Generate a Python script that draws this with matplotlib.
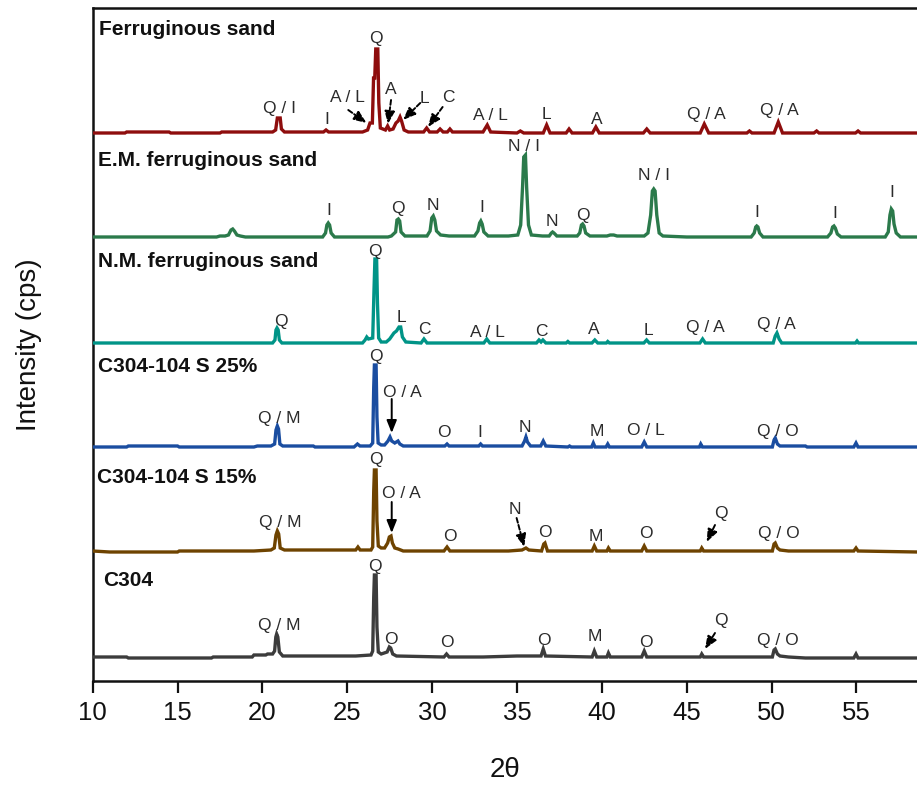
import matplotlib
matplotlib.use("Agg")
import matplotlib.pyplot as plt

plt.rcParams['font.family'] = ['Liberation Sans', 'DejaVu Sans']

# ---------------- data (2theta, intensity above each pattern's baseline) ----------------
FERR = [(10.0,0),(11.9,0),(12.0,1),(14.5,1),(14.6,0),(17.5,0),(17.6,1),(19.8,1),(20.6,1),
        (20.78,3),(20.88,15),(21.05,15),(21.12,4),(21.3,1),
        (23.6,1),(23.75,3),(23.9,1),
        (25.9,1),(26.2,3),(26.34,10),(26.48,10),(26.55,55),(26.62,55),(26.68,84),(26.8,84),(26.86,30),(26.95,5),
        (27.1,4),(27.25,3),(27.38,7),(27.5,3),(27.7,4),(27.87,10),(28.0,12),(28.11,16),(28.2,12),(28.35,3),(28.6,1),
        (29.5,1),(29.68,5),(29.85,1),(30.3,1),(30.47,4),(30.65,1),(30.9,1),(31.05,4),(31.2,1),
        (33.0,1),(33.25,8),(33.45,1),(35.0,0),(35.2,2),(35.4,0),
        (36.55,0),(36.75,8),(36.95,0),(37.9,0),(38.07,4),(38.25,0),
        (39.45,0),(39.65,6),(39.85,0),(42.45,0),(42.65,4),(42.85,0),
        (45.8,0),(46.04,9),(46.3,0),(48.55,0),(48.7,2),(48.85,0),
        (50.15,0),(50.4,11),(50.65,0),(52.5,0),(52.66,2),(52.8,0),
        (54.95,0),(55.1,2),(55.25,0),(58.6,0)]

EM = [(10.0,0),(17.3,0),(17.5,1),(17.8,1),(18.0,2),(18.15,7),(18.25,8),(18.35,6),(18.5,2),(18.7,1),(19.0,0),
      (23.55,0),(23.72,4),(23.8,12),(23.88,14),(23.96,12),(24.05,4),(24.25,0),
      (27.4,0),(27.6,1),(27.85,5),(27.93,17),(28.01,18),(28.09,16),(28.17,5),(28.4,1),(28.8,1),(29.2,1),
      (29.7,1),(29.88,6),(29.98,19),(30.07,21),(30.16,17),(30.26,6),(30.5,2),(31.0,1),(32.0,1),
      (32.5,1),(32.7,6),(32.8,14),(32.87,16),(32.95,13),(33.05,5),(33.3,1),(34.5,1),
      (35.05,2),(35.22,12),(35.33,50),(35.4,80),(35.5,82),(35.57,50),(35.68,12),(35.85,2),(36.5,1),
      (36.9,1),(37.03,4),(37.1,5),(37.18,4),(37.35,1),(38.55,1),
      (38.7,4),(38.8,12),(38.87,13),(38.95,11),(39.05,4),(39.3,1),(40.3,1),(40.5,2),(40.7,2),(40.9,1),(42.5,1),
      (42.72,4),(42.88,22),(42.98,46),(43.06,48),(43.14,46),(43.24,22),(43.38,4),(43.6,1),(45.0,0),
      (48.8,0),(48.98,4),(49.07,10),(49.13,11),(49.2,10),(49.3,4),(49.5,0),
      (53.3,0),(53.5,4),(53.6,10),(53.68,11),(53.76,9),(53.88,3),(54.1,0),
      (56.7,0),(56.88,5),(56.98,22),(57.06,28),(57.14,26),(57.22,13),(57.35,4),(57.6,0),(58.6,0)]

NM = [(10.0,0),(20.6,0),(20.74,3),(20.8,13),(20.86,15),(20.93,13),(21.0,3),(21.15,0),
      (25.9,0),(26.05,3),(26.15,6),(26.25,4),(26.5,5),(26.58,55),(26.63,84),(26.73,84),(26.78,40),(26.85,5),(27.0,1),(27.3,1),
      (27.5,4),(27.75,10),(27.9,12),(28.05,16),(28.15,16),(28.25,6),(28.45,1),(29.35,0),(29.52,4),(29.7,0),
      (33.05,0),(33.22,4),(33.4,0),(36.15,0),(36.3,3),(36.42,1),(36.53,3),(36.7,0),(37.9,0),(38.0,1.5),(38.1,0),
      (39.42,0),(39.59,3),(39.76,0),(40.27,0),(40.35,1.5),(40.45,0),(42.48,0),(42.64,3),(42.8,0),
      (45.78,0),(45.94,4),(46.1,0),(50.1,0),(50.22,7),(50.32,10),(50.45,4),(50.6,0),(54.95,0),(55.04,2),(55.13,0),(58.6,0)]

S25 = [(10.0,0),(12.0,0),(12.1,1),(15.0,1),(15.1,0),(19.5,0),(19.7,1),(20.5,1),(20.72,3),(20.8,17),(20.88,21),(20.95,18),
       (21.03,3),(21.2,1),(23.0,1),(23.1,0),(25.4,0),
       (25.6,3),(25.75,1),(26.35,1),(26.5,4),(26.56,60),(26.6,82),(26.7,82),(26.75,30),(26.82,4),(27.0,2),(27.2,2),
       (27.4,6),(27.52,10),(27.62,6),(27.8,4),(27.99,6),(28.1,3),(28.3,1),(30.0,1),(30.75,1),(30.88,3),(31.0,1),
       (32.75,1),(32.86,3),(32.97,1),
       (35.3,1),(35.45,6),(35.53,10),(35.62,5),(35.8,1),(36.4,1),(36.55,6),(36.7,1),(38.0,0),(38.1,1),(38.2,0),
       (39.4,0),(39.5,4),(39.6,0),
       (40.25,0),(40.35,3),(40.45,0),(42.35,0),(42.5,5),(42.65,0),(45.75,0),(45.83,3),(45.93,0),
       (50.05,0),(50.15,7),(50.22,9),(50.35,3),(50.5,1),(52.0,1),(52.1,0),(54.85,0),(54.98,4),(55.1,0),(58.6,0)]

S15 = [(10.0,0),(11.0,-1),(15.0,-1),(15.1,0),(18.0,0),(19.5,0),(20.5,1),(20.7,3),(20.8,16),(20.88,20),(20.96,17),
       (21.05,3),(21.3,1),(22.5,1),
       (25.5,1),(25.63,4),(25.76,1),(26.4,1),(26.5,4),(26.56,60),(26.6,81),(26.7,81),(26.75,30),(26.83,5),(27.0,3),(27.2,3),
       (27.38,8),(27.48,14),(27.58,15),(27.66,8),(27.8,3),(28.0,2),(28.3,0),(30.7,0),(30.88,4),(31.05,0),(34.5,0),
       (35.3,1),(35.53,3),(35.7,1),
       (36.45,0),(36.58,7),(36.65,8),(36.8,0),(39.43,0),(39.56,5),(39.7,0),(40.3,0),(40.39,3),(40.5,0),
       (42.35,0),(42.5,5),(42.65,0),
       (45.8,0),(45.89,3),(46.0,0),(50.05,0),(50.15,7),(50.22,8),(50.35,3),(50.5,1),(51.0,0),(54.85,0),(54.98,3),
       (55.1,0),(58.6,-1)]

C304 = [(10.0,0),(12.0,0),(12.1,-1),(17.0,-1),(17.1,0),(19.4,0),(19.5,2),(20.2,2),(20.3,3),(20.6,3),(20.72,6),
        (20.79,20),(20.84,23),(20.91,20),(21.0,5),(21.2,1),
        (22.0,1),(24.5,1),(25.5,1),(26.4,2),(26.5,6),(26.56,60),(26.6,82),(26.7,82),(26.75,30),(26.83,5),(27.0,3),
        (27.35,5),(27.48,10),(27.56,9),(27.68,3),(27.9,1),(30.7,0),(30.85,3),(31.0,0),(33.0,0),(35.0,1),(36.0,1),
        (36.42,1),(36.55,8),(36.68,1),(39.43,0),(39.56,6),(39.7,0),(40.3,0),(40.39,4),(40.5,0),(42.35,0),(42.5,6),
        (42.65,0),
        (45.8,0),(45.89,3),(46.0,0),(50.05,0),(50.15,7),(50.22,8),(50.35,3),(50.5,1),(51.0,0),(52.0,-1),(54.85,-1),
        (54.98,3),(55.1,-1),(58.6,-1)]

SERIES_NAMES = ["Ferruginous sand", "E.M. ferruginous sand", "N.M. ferruginous sand",
                "C304-104 S 25%", "C304-104 S 15%", "C304"]
SERIES_DATA = [FERR, EM, NM, S25, S15, C304]
OFFSETS = [548, 444, 338, 234, 130, 24]
COLORS = ["#8E0D0D", "#2B7A4B", "#009487", "#1A4DA0", "#6E4300", "#3C3C3C"]

# series titles: (x, baseline y)
TITLE_POS = [(10.39, 646), (10.33, 515), (10.33, 414), (10.33, 309), (10.27, 198), (10.59, 95)]

X_TICKS = [10, 15, 20, 25, 30, 35, 40, 45, 50, 55]

# phase labels: (text, x, y-center)
LABELS = [
    ("Q", 26.69, 644), ("Q / I", 20.98, 574), ("I", 23.81, 563), ("A / L", 25.04, 585), ("A", 27.58, 593),
    ("L", 29.52, 584), ("C", 30.94, 585), ("A / L", 33.41, 567), ("L", 36.71, 568), ("A", 39.72, 563),
    ("Q / A", 46.14, 568), ("Q / A", 50.44, 572),
    ("I", 23.94, 472), ("Q", 27.99, 474), ("N", 30.05, 477), ("I", 32.94, 475), ("N / I", 35.41, 536),
    ("N", 37.06, 461), ("Q", 38.88, 467), ("N / I", 43.07, 507), ("I", 49.14, 470), ("I", 53.74, 469),
    ("I", 57.1, 490),
    ("Q", 26.64, 431), ("Q", 21.09, 361), ("L", 28.17, 365), ("C", 29.52, 353), ("A / L", 33.28, 350),
    ("C", 36.46, 351), ("A", 39.5, 353), ("L", 42.74, 352), ("Q / A", 46.08, 355), ("Q / A", 50.31, 358),
    ("Q", 26.69, 326), ("Q / M", 21.0, 264), ("O / A", 28.24, 290), ("O", 30.7, 250), ("I", 32.82, 250),
    ("N", 35.47, 255), ("M", 39.7, 251), ("O / L", 42.59, 252), ("Q / O", 50.37, 251),
    ("Q", 26.69, 223), ("Q / M", 21.04, 160), ("O / A", 28.21, 189), ("O", 31.05, 146), ("N", 34.89, 173),
    ("O", 36.65, 150), ("M", 39.66, 146), ("O", 42.59, 149), ("Q", 47.0, 169), ("Q / O", 50.46, 149),
    ("Q", 26.64, 116), ("Q / M", 21.0, 57), ("O", 27.56, 43), ("O", 30.86, 40), ("O", 36.59, 42),
    ("M", 39.6, 46), ("O", 42.59, 40), ("Q", 47.0, 62), ("Q / O", 50.37, 42),
]

# arrows: (tail x, tail y, tip x, tip y, dashed)
ARROWS = [
    (25.06, 571, 26.14, 558, True), (27.58, 581, 27.40, 557, True),
    (29.30, 578, 28.29, 561, True), (30.62, 574, 29.76, 554, True),
    (27.62, 282, 27.62, 248, False), (27.62, 179, 27.62, 148, False),
    (34.98, 163, 35.43, 134, True), (46.67, 156, 46.18, 139, True),
    (46.67, 48, 46.08, 32, True),
]

# ---------------- figure ----------------
fig = plt.figure(figsize=(9.17, 7.87), dpi=100)
ax = fig.add_axes([92.7 / 917, (787 - 681) / 787, 824.3 / 917, 673 / 787])

for data, off, col in zip(SERIES_DATA, OFFSETS, COLORS):
    xs = [p[0] for p in data]
    ys = [p[1] + off for p in data]
    ax.plot(xs, ys, color=col, lw=2.4, solid_joinstyle='miter', zorder=3)

for name, (tx, ty) in zip(SERIES_NAMES, TITLE_POS):
    ax.text(tx, ty, name, fontsize=15, fontweight='bold', ha='left', va='baseline', color='#111111')

CAP_HALF = 6.0
for txt, lx, ly in LABELS:
    ax.text(lx, ly - CAP_HALF, txt, fontsize=12.5, ha='center', va='baseline', color='#2b2b2b', zorder=4)

for x0, y0, x1, y1, dashed in ARROWS:
    ax.annotate("", xy=(x1, y1), xytext=(x0, y0),
                arrowprops=dict(arrowstyle='-|>,head_length=0.75,head_width=0.3', color='black',
                                lw=1.4, linestyle=(0, (2.5, 1.2)) if dashed else '-',
                                shrinkA=0, shrinkB=0), zorder=5)

ax.set_xlim(10, 10 + 824.3 / 16.97)
ax.set_ylim(0, 673)
ax.set_xticks(X_TICKS)
ax.set_xticklabels([str(t) for t in X_TICKS])
ax.set_yticks([])
ax.tick_params(axis='x', direction='out', length=8.6, width=1.6, labelsize=18.5, pad=6, colors='#111111')
ax.spines['right'].set_visible(False)
for s in ['left', 'bottom', 'top']:
    ax.spines[s].set_linewidth(1.8)
    ax.spines[s].set_color('#111111')

ax.set_xlabel("2θ", fontsize=20, color='#111111')
ax.set_ylabel("Intensity (cps)", fontsize=20, color='#111111')
ax.xaxis.set_label_coords(0.5, -0.113)
ax.yaxis.set_label_coords(-0.062, 0.5)

fig.savefig("out.png", dpi=100)
